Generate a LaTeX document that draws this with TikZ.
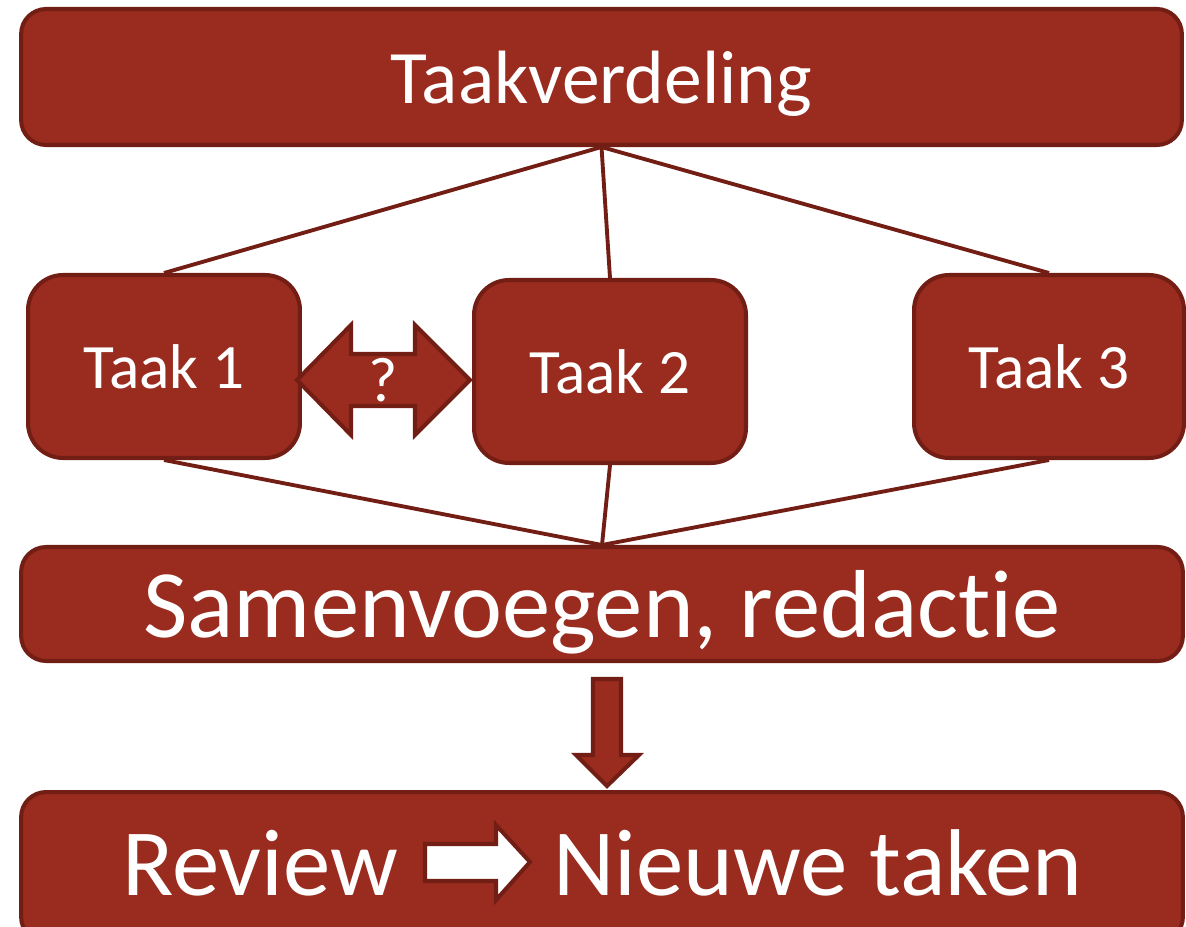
\documentclass[tikz,border=0pt]{standalone}
\usepackage{fontspec}
\setmainfont{Carlito}[Ligatures=NoCommon]
\definecolor{brick}{RGB}{153,43,31}
\definecolor{brickdark}{RGB}{115,30,21}
\tikzset{
    bar/.style = {draw=brickdark, fill=brick, line width=2.3pt,
        rounded corners=0.5cm, text=white, text depth=0pt},
    task/.style = {draw=brickdark, fill=brick, line width=2.3pt,
        rounded corners=0.7cm, text=white,
        minimum width=5.44cm, minimum height=3.66cm,
        font=\fontsize{36}{40}\selectfont},
    link/.style = {draw=brickdark, line width=2.2pt},
    bigarrow/.style = {draw=brickdark, fill=brick, line width=2.3pt},
    wordtext/.style = {text=white, inner sep=0pt, font=\fontsize{54}{60}\selectfont}
}
\begin{document}
\begin{tikzpicture}[x=0.02cm, y=-0.02cm]
\useasboundingbox (0,0) rectangle (1186,926);
                \node[bar, minimum width=23.22cm, minimum height=2.72cm, font=\fontsize{43}{48}\selectfont] (plan) at (601.5,77) {Taakverdeling};
                \node[task] (t1) at (164,366.5) {Taak 1};
                \node[task] (t2) at (610,371.5) {Taak 2};
                \node[task, minimum width=5.40cm] (t3) at (1049,366.5) {Taak 3};
                \node[bar, minimum width=23.24cm, minimum height=2.28cm, font=\fontsize{55}{60}\selectfont] (merge) at (602,604) {Samenvoegen, redactie};
                \node[bar, minimum width=23.24cm, minimum height=3cm] (review) at (602,867) {};
                \foreach \t in {t1,t2,t3} {
                    \draw [link] (plan.south) -- (\t.north);
                    \draw [link] (\t.south) -- (merge.north);
                }
                \draw [bigarrow] (297,380) -- (351,325) -- (351,354) -- (415,354) -- (415,325) -- (470,380)
                    -- (415,435) -- (415,406) -- (351,406) -- (351,435) -- cycle;
                \node[wordtext, font=\fontsize{36}{40}\selectfont] (ask) at (383,380) {?};
                \draw [bigarrow] (593,679) -- (621,679) -- (621,755) -- (639,755) -- (607,786)
                    -- (576,755) -- (593,755) -- cycle;
                \draw [bigarrow, fill=white] (425,844) -- (496,844) -- (496,825) -- (530,862)
                    -- (496,900) -- (496,881) -- (425,881) -- cycle;
                \node[wordtext] (rev) at (260,863) {Review};
                \node[wordtext] (new) at (818,863) {Nieuwe taken};
            \end{tikzpicture}
\end{document}
